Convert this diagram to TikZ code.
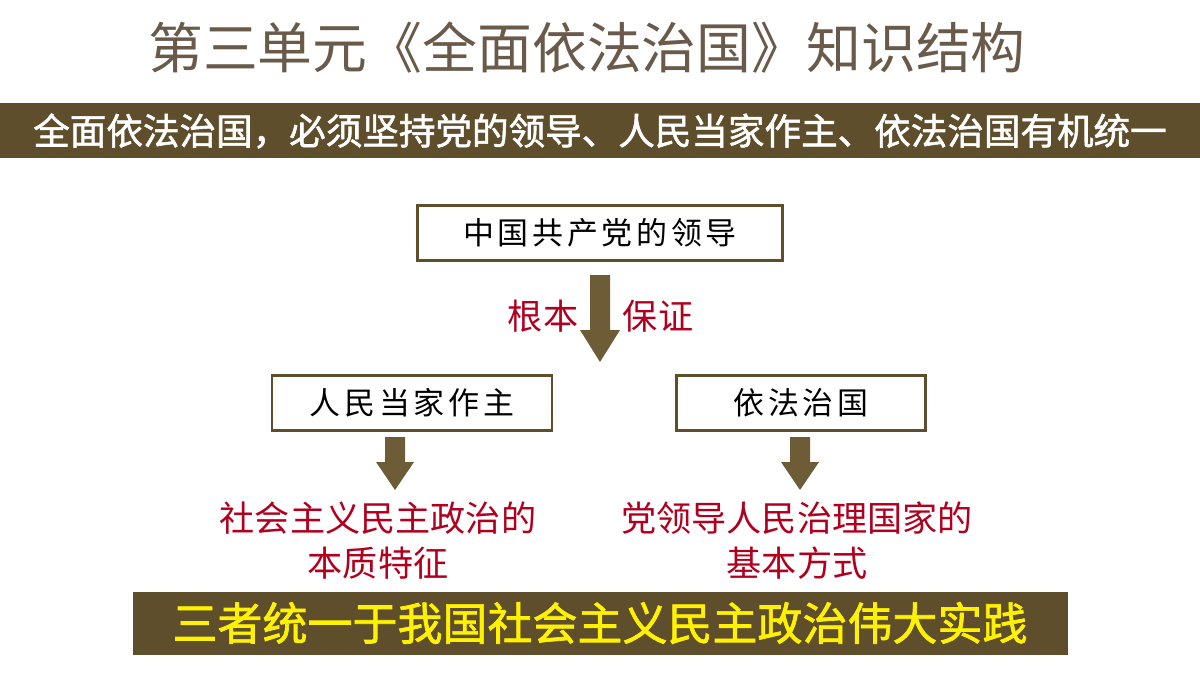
\documentclass[tikz,border=0pt]{standalone}
\usepackage{fontspec}
\setmainfont{Noto Sans CJK SC}
\newfontfamily\cjkb[FakeBold=1.5]{Noto Sans CJK SC}
\newfontfamily\cjks[LetterSpace=12]{Noto Sans CJK SC}
\usetikzlibrary{arrows.meta}
\definecolor{olive}{HTML}{5E4E2C}
\definecolor{arr}{HTML}{6E5C36}
\definecolor{dred}{HTML}{B0001E}
\definecolor{tgray}{HTML}{6A5A4A}
\tikzset{
  box/.style={draw=olive,line width=1.6pt,fill=white,minimum height=55*0.025cm,font=\cjks\fontsize{22}{22}\selectfont},
  bigarr/.style={draw=none,fill=arr},
  redt/.style={text=dred,font=\fontsize{25}{32}\selectfont,align=center}
}
\begin{document}
\begin{tikzpicture}[x=0.025cm,y=-0.025cm]
\useasboundingbox (0,0) rectangle (1200,675);
\node[text=tgray,font=\fontsize{39}{39}\selectfont] (title) at (587,48) {第三单元《全面依法治国》知识结构};
\fill[olive] (0,103) rectangle (1200,158);
\node[text=white,font=\cjkb\fontsize{26}{26}\selectfont] (b1) at (600,131) {全面依法治国，必须坚持党的领导、人民当家作主、依法治国有机统一};
\node[box,minimum width=365*0.025cm] (lead) at (600,233) {中国共产党的领导};
\node[box,minimum width=280*0.025cm] (people) at (412,403) {人民当家作主};
\node[box,minimum width=249*0.025cm] (law) at (801,403) {依法治国};
\fill[arr] (590,275) -- (610,275) -- (610,330) -- (620,330) -- (600,362) -- (580,330) -- (590,330) -- cycle;
\node[redt] (gb) at (543,316) {根本};
\node[redt] (bz) at (658,316) {保证};
\fill[arr] (385,437) -- (405,437) -- (405,462) -- (414,462) -- (395,490) -- (376,462) -- (385,462) -- cycle;
\fill[arr] (790,437) -- (810,437) -- (810,462) -- (819,462) -- (800,490) -- (781,462) -- (790,462) -- cycle;
\node[redt] (t1) at (378,541) {社会主义民主政治的\\本质特征};
\node[redt] (t2) at (797,541) {党领导人民治理国家的\\基本方式};
\fill[olive] (133,592) rectangle (1068,655);
\node[text=yellow,font=\cjkb\fontsize{32}{32}\selectfont] (b2) at (600,623) {三者统一于我国社会主义民主政治伟大实践};
\end{tikzpicture}
\end{document}
